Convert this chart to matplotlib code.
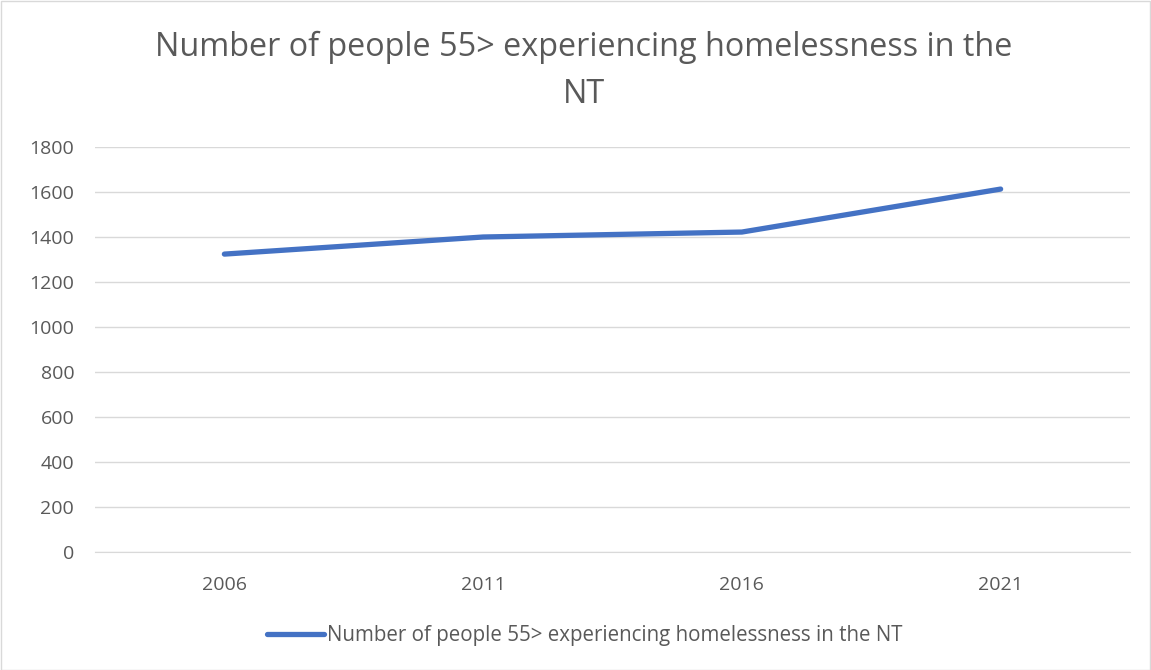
import matplotlib.pyplot as plt
from matplotlib.patches import Rectangle

years = ['2006', '2011', '2016', '2021']
people = [1324, 1400, 1422, 1613]
series_name = 'Number of people 55> experiencing homelessness in the NT'
title = 'Number of people 55> experiencing homelessness in the\nNT'

plt.rcParams['font.family'] = ['Open Sans', 'DejaVu Sans']
text_col = '#595959'

W, H = 1151, 670
fig = plt.figure(figsize=(W / 100, H / 100), dpi=100)
ax = fig.add_axes([95 / W, 1 - 552 / H, (1130 - 95) / W, (552 - 147) / H])

x = range(len(years))
line, = ax.plot(x, people, color='#4472C4', linewidth=3.8,
                solid_capstyle='round', label=series_name)

ax.set_xlim(-0.5, len(years) - 0.5)
ax.set_ylim(0, 1800)
ax.set_yticks(range(0, 1801, 200))
ax.set_xticks(list(x))
ax.set_xticklabels(years)
ax.grid(axis='y', color='#d9d9d9', linewidth=1)
ax.set_axisbelow(True)
for s in ['top', 'right', 'left']:
    ax.spines[s].set_visible(False)
ax.spines['bottom'].set_color('#d9d9d9')
ax.tick_params(length=0, colors=text_col, labelsize=14)
ax.tick_params(axis='x', pad=17)
ax.tick_params(axis='y', pad=15)

fig.text(0.507, 1 - 71 / H, title, ha='center', va='center',
         fontsize=23.3, color=text_col, linespacing=1.55)

fig.legend(handles=[line], loc='center', bbox_to_anchor=(0.508, 1 - 636 / H),
           frameon=False, fontsize=14.8, labelcolor=text_col,
           handlelength=2.8, handletextpad=0.15)

fig.patches.append(Rectangle((0.5 / W, 0.5 / H), 1 - 1.5 / W, 1 - 1.5 / H,
                             transform=fig.transFigure, fill=False,
                             edgecolor='#d9d9d9', linewidth=1))

fig.savefig('out.png', dpi=100, facecolor='white')
